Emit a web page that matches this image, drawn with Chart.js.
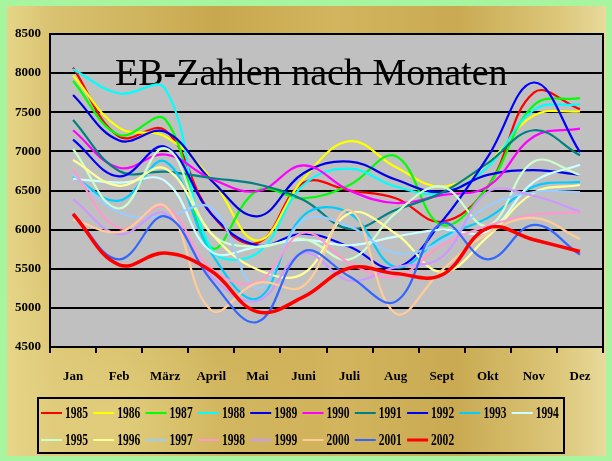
<!DOCTYPE html>
<html>
<head>
<meta charset="utf-8">
<script src="https://cdn.jsdelivr.net/npm/chart.js@4/dist/chart.umd.min.js"></script>
<style>
  html, body { margin: 0; padding: 0; background: #a8f5a0; }
  #wrap { width: 612px; height: 461px; position: relative; }
</style>
</head>
<body>
<div id="wrap"><canvas id="c" width="612" height="461"></canvas></div>
<script>
const months = ['Jan','Feb','März','April','Mai','Juni','Juli','Aug','Sept','Okt','Nov','Dez'];
const yAxisTicks = [4500, 5000, 5500, 6000, 6500, 7000, 7500, 8000, 8500];
const chartTitle = 'EB-Zahlen nach Monaten';
const years = ['1985','1986','1987','1988','1989','1990','1991','1992','1993','1994','1995','1996','1997','1998','1999','2000','2001','2002'];

const y1985 = [8070, 7190, 7270, 6200, 5830, 6600, 6500, 6400, 6100, 6550, 7750, 7540];
const y1986 = [7970, 7300, 7190, 6650, 5860, 6650, 7130, 6800, 6550, 6850, 7460, 7510];
const y1987 = [7900, 7210, 7410, 5770, 6500, 6400, 6570, 6940, 6060, 6550, 7590, 7680];
const y1988 = [8050, 7740, 7800, 5750, 5700, 6570, 6780, 6550, 6470, 6800, 7530, 7600];
const y1989 = [7720, 7140, 7250, 6630, 6170, 6720, 6870, 6640, 6480, 6700, 6760, 6700];
const y1990 = [7270, 6790, 6960, 6650, 6490, 6820, 6500, 6340, 6440, 6550, 7190, 7290];
const y1991 = [7400, 6750, 6740, 6660, 6580, 6380, 6010, 6250, 6470, 6850, 7270, 6950];
const y1992 = [7150, 6680, 7060, 6200, 5800, 5950, 5780, 5510, 6100, 6930, 7880, 6990];
const y1993 = [6680, 6370, 6870, 5700, 5120, 6180, 6210, 5520, 5900, 6150, 6550, 6610];
const y1994 = [6650, 6600, 6620, 5720, 5780, 5870, 5800, 5910, 6000, 5980, 6610, 6830];
const y1995 = [7030, 6270, 7040, 5950, 5780, 5880, 5620, 6210, 6550, 6050, 6870, 6700];
const y1996 = [6890, 6560, 6780, 5950, 5490, 5440, 6210, 5950, 5460, 5910, 6470, 6570];
const y1997 = [6700, 6220, 6170, 6280, 5250, 6120, 6040, 5700, 5850, 6300, 6480, 6480];
const y1998 = [6760, 6020, 6290, 5500, 5330, 5960, 5570, 5400, 5800, 6050, 6190, 6220];
const y1999 = [6390, 5940, 6210, 5400, 5090, 5700, 5350, 5520, 5650, 6480, 6430, 6230];
const y2000 = [6130, 5970, 6300, 4970, 5320, 5280, 6250, 4930, 5480, 5950, 6150, 5880];
const y2001 = [6200, 5620, 6170, 5350, 4820, 5720, 5400, 5080, 6080, 5620, 6060, 5680];
const y2002 = [6200, 5550, 5700, 5470, 4950, 5140, 5510, 5440, 5420, 6020, 5870, 5720];

const seriesValues = [y1985,y1986,y1987,y1988,y1989,y1990,y1991,y1992,y1993,y1994,y1995,y1996,y1997,y1998,y1999,y2000,y2001,y2002];
const seriesColors = ['#ff0000','#ffff00','#00ff00','#00ffff','#0000e6','#ff00ff','#008080','#0000ff','#00ccff','#ccffff','#ccffcc','#ffff99','#99ccff','#ff99cc','#cc99ff','#ffcc99','#3366ff','#ff0000'];

const SERIF = '"Liberation Serif", "Times New Roman", serif';

const datasets = years.map((yr, i) => ({
  label: yr,
  data: seriesValues[i],
  borderColor: seriesColors[i],
  backgroundColor: seriesColors[i],
  borderWidth: yr === '2002' ? 3.5 : 2.2,
  pointRadius: 0,
  tension: 0.4,
  fill: false,
  order: years.length - i
}));

const decor = {
  id: 'decor',
  beforeDraw(chart) {
    const ctx = chart.ctx;
    const W = chart.width, H = chart.height;
    ctx.save();
    ctx.fillStyle = '#a8f5a0';
    ctx.fillRect(0, 0, W, H);
    const g = ctx.createLinearGradient(7, 0, 606, 0);
    g.addColorStop(0, '#e6d587');
    g.addColorStop(0.08, '#d8c170');
    g.addColorStop(0.35, '#c8a84e');
    g.addColorStop(0.55, '#d2b55e');
    g.addColorStop(0.75, '#c9aa52');
    g.addColorStop(0.92, '#dcc679');
    g.addColorStop(1, '#e8da9c');
    ctx.fillStyle = g;
    ctx.fillRect(7, 6, 599, 450);
    const g2 = ctx.createRadialGradient(120, 420, 10, 120, 420, 200);
    g2.addColorStop(0, 'rgba(235,220,140,0.55)');
    g2.addColorStop(1, 'rgba(235,220,140,0)');
    ctx.fillStyle = g2;
    ctx.fillRect(7, 6, 599, 450);
    const a = chart.chartArea;
    ctx.fillStyle = '#c0c0c0';
    ctx.fillRect(a.left, a.top, a.right - a.left, a.bottom - a.top);
    ctx.restore();
  },
  beforeDatasetsDraw(chart) {
    const ctx = chart.ctx;
    const a = chart.chartArea;
    ctx.save();
    ctx.strokeStyle = '#000';
    ctx.lineWidth = 2;
    ctx.strokeRect(a.left, a.top, a.right - a.left, a.bottom - a.top);
    ctx.fillStyle = '#000';
    ctx.font = '38px ' + SERIF;
    ctx.textAlign = 'left';
    ctx.textBaseline = 'alphabetic';
    ctx.fillText(chartTitle, 115, 85);
    ctx.restore();
  },
  afterDraw(chart) {
    const ctx = chart.ctx;
    ctx.save();
    ctx.strokeStyle = '#000';
    ctx.lineWidth = 2;
    ctx.strokeRect(38, 398, 526, 55);
    ctx.textBaseline = 'middle';
    ctx.textAlign = 'left';
    chart.data.datasets.forEach((ds, i) => {
      const row = Math.floor(i / 10), col = i % 10;
      const x0 = 41 + col * 52.3;
      const y = row === 0 ? 413 : 440;
      ctx.strokeStyle = ds.borderColor;
      ctx.lineWidth = ds.label === '2002' ? 3 : 2;
      ctx.beginPath();
      ctx.moveTo(x0, y);
      ctx.lineTo(x0 + 21, y);
      ctx.stroke();
      ctx.save();
      ctx.translate(x0 + 24, y + 1);
      ctx.scale(0.72, 1);
      ctx.font = 'bold 16px ' + SERIF;
      ctx.fillStyle = '#000';
      ctx.fillText(ds.label, 0, 0);
      ctx.restore();
    });
    ctx.restore();
  }
};

new Chart(document.getElementById('c'), {
  type: 'line',
  data: { labels: months, datasets },
  options: {
    responsive: false,
    animation: false,
    devicePixelRatio: 1,
    layout: { padding: { top: 34, right: 9, left: 0, bottom: 0 } },
    plugins: { legend: { display: false }, title: { display: false }, tooltip: { enabled: false } },
    scales: {
      x: {
        offset: true,
        grid: { offset: true, drawOnChartArea: false, drawTicks: true, tickLength: 6, color: '#000', lineWidth: 2 },
        border: { display: true, color: '#000', width: 2 },
        ticks: { color: '#000', font: { family: SERIF, size: 13, weight: 'bold' }, padding: 16, maxRotation: 0, autoSkip: false },
        afterFit(scale) { scale.height = 114; }
      },
      y: {
        min: yAxisTicks[0],
        max: yAxisTicks[yAxisTicks.length - 1],
        afterBuildTicks(scale) { scale.ticks = yAxisTicks.map(v => ({ value: v })); },
        grid: { color: '#000', lineWidth: 2, drawTicks: false },
        border: { display: true, color: '#000', width: 2 },
        ticks: { color: '#000', font: { family: SERIF, size: 13, weight: 'bold' }, padding: 9, callback: v => String(v) },
        afterFit(scale) { scale.width = 50; }
      }
    }
  },
  plugins: [decor]
});
</script>
</body>
</html>
